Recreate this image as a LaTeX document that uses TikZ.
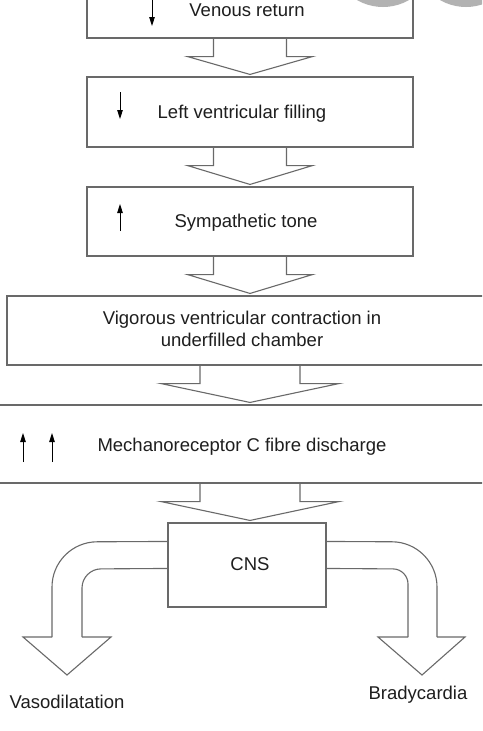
\documentclass[tikz,border=0pt]{standalone}
\usepackage{fontspec}
\setmainfont{Liberation Sans}
\usetikzlibrary{calc,arrows.meta}
\definecolor{lineg}{RGB}{105,105,105}
\definecolor{txt}{RGB}{30,30,30}
\definecolor{blob}{RGB}{178,178,178}
\newcommand{\flowarrow}[4]{%
  \draw[line] ($(#1.south)+(-#3,0)$) -- ($(#1.south)+(-#3,18)$) -- ($(#1.south)+(-#4,18)$)
    -- ($(#1.south |- #2.north)+(0,-2)$)
    -- ($(#1.south)+(#4,18)$) -- ($(#1.south)+(#3,18)$) -- ($(#1.south)+(#3,0)$);}
\begin{document}
\begin{tikzpicture}[x=1pt,y=-1pt,
  line/.style={draw=lineg,line width=1.1pt,line join=miter},
  box/.style={draw=lineg,line width=1.1pt,rectangle,inner sep=0pt},
  lbl/.style={text=txt,font=\fontsize{18.5}{22}\selectfont,inner sep=0pt},
  small/.style={draw=black,line width=0.9pt,-{Triangle[length=9pt,width=5.5pt]}}]
\useasboundingbox (0,0) rectangle (482,731);
\clip (0,0) rectangle (482,731);
\fill[white] (0,0) rectangle (482,731);
% boxes
\node[box,minimum width=326pt,minimum height=58pt] (b1) at (250,9) {};
\node[box,minimum width=326pt,minimum height=70pt] (b2) at (250,112) {};
\node[box,minimum width=326pt,minimum height=69pt] (b3) at (250,221.5) {};
\node[box,minimum width=486pt,minimum height=69pt] (b4) at (250,330.5) {};
\node[box,minimum width=540pt,minimum height=78pt] (b5) at (250,444) {};
\node[box,minimum width=158pt,minimum height=84pt] (cns) at (247,565) {};
% texts
\node[lbl] (t1) at (247,10) {Venous return};
\node[lbl] (t2) at (242,114) {Left ventricular filling};
\node[lbl] (t3) at (246,223) {Sympathetic tone};
\node[lbl,align=center] (t4) at (242,329) {Vigorous ventricular contraction in\\underfilled chamber};
\node[lbl] (t5) at (242,447) {Mechanoreceptor C fibre discharge};
\node[lbl] (tc) at (250,564) {CNS};
\node[lbl] (tv) at (67,702) {Vasodilatation};
\node[lbl] (tb) at (418,695) {Bradycardia};
% block arrows
\flowarrow{b1}{b2}{36.5}{62.5}
\flowarrow{b2}{b3}{36.5}{62.5}
\flowarrow{b3}{b4}{36.5}{62.5}
\flowarrow{b4}{b5}{50}{89}
\flowarrow{b5}{cns}{50}{89}
% curved arrows out of CNS
\draw[line,rounded corners=45pt] ($(cns.north west)+(0,19)$) -- (52,542) -- (52,637);
\draw[line,rounded corners=19pt] ($(cns.north west)+(0,46)$) -- (82,569) -- (82,637);
\draw[line] (52,637) -- (23,637) -- (67,675) -- (111,637) -- (82,637);
\draw[line,rounded corners=45pt] ($(cns.north east)+(0,19)$) -- (437,542) -- (437,637);
\draw[line,rounded corners=15pt] ($(cns.north east)+(0,46)$) -- (408,569) -- (408,637);
\draw[line] (437,637) -- (465,637) -- (422,675) -- (378,637) -- (408,637);
% small up/down arrows
\draw[small] (152,0) -- (152,26);
\draw[small] (120,92) -- (120,119);
\draw[small] (120,231) -- (120,204);
\draw[small] (23,462) -- (23,433);
\draw[small] (52,462) -- (52,433);
% grey discs at top right
\fill[blob] (383,-45) circle (52);
\fill[blob] (466,-45) circle (52);
\end{tikzpicture}
\end{document}
